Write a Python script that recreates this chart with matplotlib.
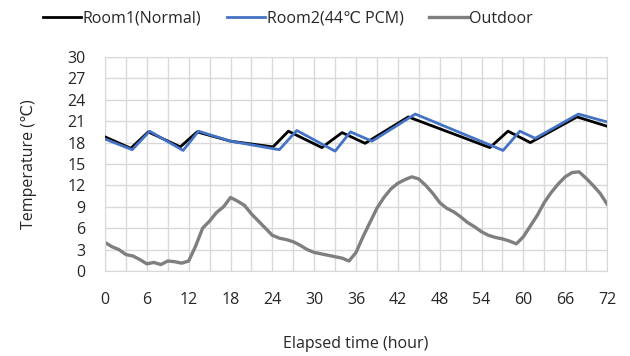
import matplotlib
matplotlib.use("Agg")
import matplotlib.pyplot as plt
from matplotlib.ticker import MultipleLocator

plt.rcParams['font.family'] = ['Open Sans', 'DejaVu Sans']

# Room1 (Normal) breakpoints
room1_t = [0, 3.7, 6.2, 10.8, 13.2, 18, 24.1, 26.3, 31.1, 34.0, 37.3, 43.5, 55.2, 57.8, 61.0, 67.7, 72]
room1_v = [18.8, 17.2, 19.5, 17.4, 19.5, 18.2, 17.4, 19.6, 17.3, 19.4, 17.9, 21.6, 17.3, 19.6, 18.0, 21.6, 20.3]

# Room2 (44℃ PCM) breakpoints
room2_t = [0, 3.9, 6.4, 11.2, 13.4, 18, 25.0, 27.5, 33.0, 35.2, 38.3, 44.5, 57.1, 59.5, 61.7, 67.9, 72]
room2_v = [18.5, 17.0, 19.6, 16.9, 19.6, 18.2, 17.0, 19.7, 16.8, 19.5, 18.2, 22.0, 16.9, 19.6, 18.6, 22.0, 20.9]

# Outdoor hourly
out_t = list(range(0, 73))
out_v = [4.0, 3.4, 3.0, 2.3, 2.1, 1.6, 1.0, 1.2, 0.9, 1.4, 1.3, 1.1, 1.4, 3.5, 6.0, 7.0, 8.2, 9.0, 10.3, 9.8,
         9.2, 8.0, 7.0, 6.0, 5.0, 4.6, 4.4, 4.1, 3.6, 3.0, 2.6, 2.4, 2.2, 2.0, 1.8, 1.4, 2.6, 4.8, 6.8, 8.8,
         10.3, 11.5, 12.3, 12.8, 13.2, 12.9, 12.0, 10.9, 9.6, 8.8, 8.3, 7.6, 6.8, 6.2, 5.5, 5.0, 4.7, 4.5, 4.2, 3.8,
         4.8, 6.3, 7.8, 9.6, 11.0, 12.2, 13.2, 13.8, 13.9, 13.0, 12.0, 10.9, 9.4]

x_ticks = list(range(0, 73, 6))
y_ticks = list(range(0, 31, 3))

fig = plt.figure(figsize=(6.3, 3.56), dpi=100)
ax = fig.add_axes([0.1667, 0.2388, 0.7968, 0.6011])

l1, = ax.plot(room1_t, room1_v, color='#000000', lw=2.0, label='Room1(Normal)', zorder=3)
l2, = ax.plot(room2_t, room2_v, color='#4472C4', lw=2.0, label='Room2(44℃ PCM)', zorder=4)
l3, = ax.plot(out_t, out_v, color='#7f7f7f', lw=2.4, label='Outdoor', zorder=2)

ax.set_xlim(0, 72)
ax.set_ylim(0, 30)
ax.set_xticks(x_ticks)
ax.set_yticks(y_ticks)
ax.xaxis.set_minor_locator(MultipleLocator(3))
ax.grid(True, which='both', color='#d9d9d9', lw=1.0)
ax.set_axisbelow(True)
for s in ax.spines.values():
    s.set_color('#d9d9d9')
ax.tick_params(which='both', length=0, labelsize=11.5, colors='#262626')
ax.tick_params(axis='x', pad=15)
ax.tick_params(axis='y', pad=14)
ax.set_xlabel('Elapsed time (hour)', fontsize=11.5, color='#262626', labelpad=20)
ax.set_ylabel('Temperature (℃)', fontsize=11.5, color='#262626', labelpad=22)

leg = fig.legend(handles=[l1, l2, l3], loc='upper left', bbox_to_anchor=(0.045, 1.01), ncol=3,
                 frameon=False, fontsize=11.5, handlelength=2.4, handletextpad=0.1, columnspacing=1.6)
for t in leg.get_texts():
    t.set_color('#262626')

fig.savefig('out.png', dpi=100)
